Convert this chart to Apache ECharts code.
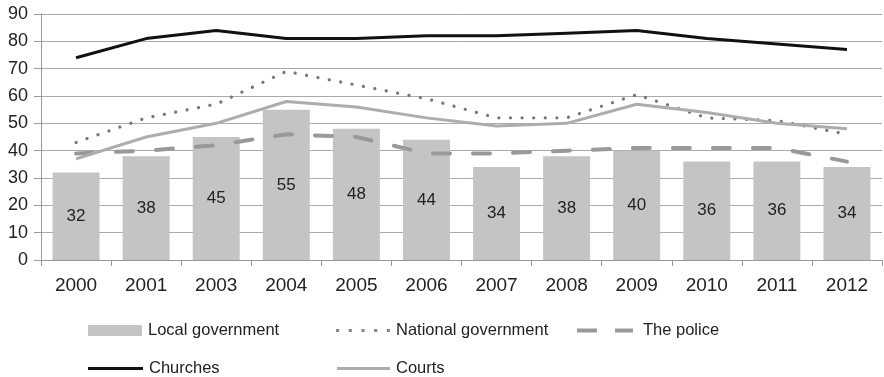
<!DOCTYPE html>
<html>
<head>
<meta charset="utf-8">
<script src="https://cdn.jsdelivr.net/npm/echarts@6/dist/echarts.min.js"></script>
<style>
html, body { margin: 0; padding: 0; background: #fff; }
#chart { width: 884px; height: 377px; }
</style>
</head>
<body>
<div id="chart"></div>
<script>
var years = ['2000', '2001', '2003', '2004', '2005', '2006', '2007', '2008', '2009', '2010', '2011', '2012'];
var localGov = [32, 38, 45, 55, 48, 44, 34, 38, 40, 36, 36, 34];
var nationalGov = [43, 52, 57, 69, 64, 59, 52, 52, 60.5, 52, 51, 46];
var police = [39, 40, 42, 46, 45, 39, 39, 40, 41, 41, 41, 36];
var churches = [74, 81, 84, 81, 81, 82, 82, 83, 84, 81, 79, 77];
var courts = [37, 45, 50, 58, 56, 52, 49, 50, 57, 54, 50, 48];

var myChart = echarts.init(document.getElementById('chart'));
var font = 'Liberation Sans';

// legend icons
var dotIcon = 'path://M0,0h3v3h-3zM12,0h3v3h-3zM24,0h3v3h-3zM36,0h3v3h-3zM48,0h3v3h-3z';
var dashIcon = 'path://M0,0h20v4h-20zM38,0h18v4h-18z';

function leg(name, left, top, icon, w, h, gap) {
	return {
		data: [name],
		left: left,
		top: top,
		icon: icon,
		itemWidth: w,
		itemHeight: h,
		itemGap: 4,
		padding: [0, 0, 0, 0],
		symbolKeepAspect: false,
		itemStyle: { borderWidth: 0 },
		lineStyle: { width: 0 },
		textStyle: { fontFamily: font, fontSize: 16.5, color: '#222', padding: [0, 0, 0, gap - 5] }
	};
}

var option = {
	animation: false,
	grid: { left: 41, right: 2, top: 14, bottom: 117, containLabel: false },
	legend: [
		leg('Local government', 88, 322, 'rect', 54, 11, 6),
		leg('National government', 336, 322, dotIcon, 54, 3, 6),
		leg('The police', 577, 322, dashIcon, 56, 4, 10),
		leg('Churches', 88, 360, 'rect', 55, 3, 6),
		leg('Courts', 337, 360, 'rect', 53, 3, 6)
	],
	xAxis: {
		type: 'category',
		data: years,
		axisLine: { lineStyle: { color: '#999', width: 1 } },
		axisTick: { show: true, length: 6, lineStyle: { color: '#999' } },
		axisLabel: { fontFamily: font, fontSize: 19, color: '#222', margin: 16 }
	},
	yAxis: {
		type: 'value',
		min: 0,
		max: 90,
		interval: 10,
		axisLine: { show: true, lineStyle: { color: '#999' } },
		axisTick: { show: true, length: 7, lineStyle: { color: '#999' } },
		axisLabel: { fontFamily: font, fontSize: 18, color: '#222', margin: 13 },
		splitLine: { lineStyle: { color: '#aaa', width: 1 } }
	},
	series: [
		{
			name: 'Local government',
			type: 'bar',
			data: localGov,
			barCategoryGap: '33%',
			itemStyle: { color: '#c4c4c4' },
			label: { show: true, position: 'inside', fontFamily: font, fontSize: 17, color: '#222' },
			z: 1
		},
		{
			name: 'National government',
			type: 'line',
			data: nationalGov,
			symbol: 'none',
			lineStyle: { color: '#777', width: 3.2, type: [0.1, 11.5], cap: 'round' },
			itemStyle: { color: '#888' },
			z: 3
		},
		{
			name: 'The police',
			type: 'line',
			data: police,
			symbol: 'none',
			lineStyle: { color: '#999', width: 4, type: [17, 23], cap: 'round' },
			itemStyle: { color: '#999' },
			z: 3
		},
		{
			name: 'Churches',
			type: 'line',
			data: churches,
			symbol: 'none',
			lineStyle: { color: '#111', width: 3 },
			itemStyle: { color: '#111' },
			z: 4
		},
		{
			name: 'Courts',
			type: 'line',
			data: courts,
			symbol: 'none',
			lineStyle: { color: '#adadad', width: 3 },
			itemStyle: { color: '#adadad' },
			z: 3
		}
	]
};
myChart.setOption(option);
</script>
</body>
</html>
